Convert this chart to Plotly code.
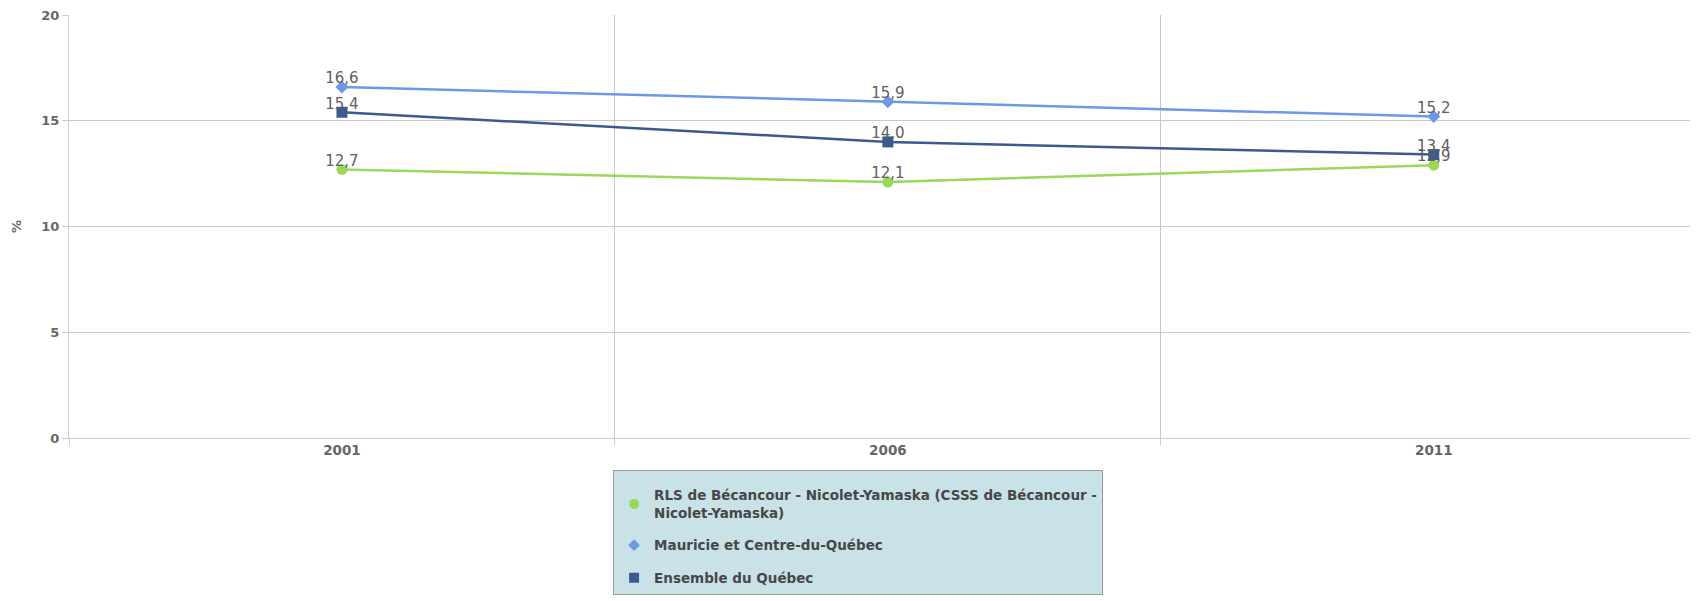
import plotly.graph_objects as go

years = ["2001", "2006", "2011"]
rls = [12.7, 12.1, 12.9]
mauricie = [16.6, 15.9, 15.2]
quebec = [15.4, 14.0, 13.4]

names = [
    "RLS de Bécancour - Nicolet-Yamaska (CSSS de Bécancour -<br>Nicolet-Yamaska)",
    "Mauricie et Centre-du-Québec",
    "Ensemble du Québec",
]
colors = ["#9ad85a", "#6c98e6", "#3b5a8e"]
symbols = ["circle", "diamond", "square"]
y_ticks = [0, 5, 10, 15, 20]

def fmt(v):
    return f"{v:.1f}".replace(".", ",")

fig = go.Figure()
for i, (name, vals, col, sym) in enumerate(zip(names, [rls, mauricie, quebec], colors, symbols)):
    fig.add_trace(go.Scatter(
        x=years, y=vals, mode="lines+markers", showlegend=False,
        line=dict(color=col, width=2.5),
        marker=dict(symbol=sym, size=11 if sym != "diamond" else 10, color=col),
        cliponaxis=False, hoverinfo="x+y",
    ))
    # legend-only entry (marker symbol only, as in reference)
    fig.add_trace(go.Scatter(
        x=[None], y=[None], mode="markers", name=name,
        marker=dict(symbol=sym, size=10 if sym != "diamond" else 9, color=col),
        legendgroup=f"g{i}",
    ))
for vals in [rls, mauricie, quebec]:
    # data labels
    fig.add_trace(go.Scatter(
        x=years, y=vals, mode="text", showlegend=False, hoverinfo="skip",
        text=[fmt(v) for v in vals], textposition="top center",
        marker=dict(size=1),
        textfont=dict(family="DejaVu Sans", size=15, color="#606060"),
        cliponaxis=False,
    ))

fig.update_layout(
    width=1690, height=593,
    margin=dict(l=61, r=0, t=7, b=163),
    plot_bgcolor="white", paper_bgcolor="white",
    font=dict(family="DejaVu Sans", color="#606060"),
    showlegend=True,
    legend=dict(
        x=0.334, y=-0.075, xanchor="left", yanchor="top",
        bgcolor="#c8e2e8", bordercolor="#9a9a9a", borderwidth=1,
        font=dict(family="DejaVu Sans", size=13.5, color="#474747", weight="bold"),
        itemsizing="trace", traceorder="grouped", tracegroupgap=12,
        title=dict(text="&nbsp;", font=dict(size=7)),
    ),
    xaxis=dict(
        type="category", range=[-0.5, 2.484], automargin=False,
        tickson="boundaries", ticks="outside", ticklen=6, tickcolor="#c0d0e0",
        showgrid=True, gridcolor="#c8c8c8", gridwidth=1,
        showline=True, linecolor="#c0d0e0", linewidth=1,
        tickfont=dict(family="DejaVu Sans", size=13.5, color="#666666", weight="bold"),
        fixedrange=True,
    ),
    yaxis=dict(
        range=[0, 20], tickvals=y_ticks, ticklabeloverflow="allow", automargin=False,
        ticks="outside", ticklen=6, tickcolor="#c8c8c8",
        showgrid=True, gridcolor="#c8c8c8", gridwidth=1,
        showline=True, linecolor="#c0d0e0", linewidth=1,
        zeroline=False,
        tickfont=dict(family="DejaVu Sans", size=13, color="#666666", weight="bold"),
        title=dict(text="%", font=dict(family="DejaVu Sans", size=13, color="#666666", weight="bold"), standoff=16),
        fixedrange=True,
    ),
)

fig.write_html("out.html")
